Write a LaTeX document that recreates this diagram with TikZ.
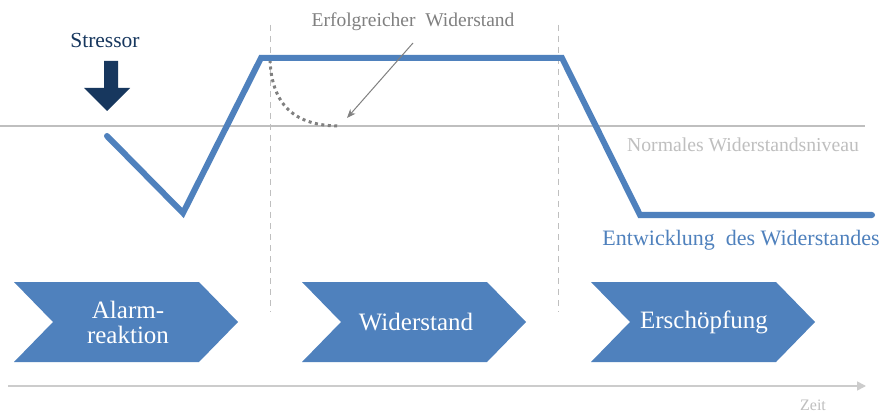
\documentclass[tikz,border=0pt]{standalone}
\usepackage{fontspec}
\setmainfont{Liberation Serif}
\usetikzlibrary{arrows.meta}
\definecolor{cblue}{HTML}{4F81BD}
\definecolor{cnavy}{HTML}{17375E}
\definecolor{clgray}{HTML}{BFBFBF}
\definecolor{cmgray}{HTML}{808080}
\begin{document}
\begin{tikzpicture}[x=1pt,y=-1pt,
  chev/.style={fill=cblue,draw=none},
  chevtext/.style={text=white,font=\fontsize{25}{25}\selectfont,align=center,inner sep=0pt},
  curve/.style={draw=cblue,line width=6pt,line join=miter,line cap=round},
  vdash/.style={draw=clgray,line width=1pt,dash pattern=on 6pt off 5pt}]
\useasboundingbox (0,0) rectangle (883,414);
\fill[white] (0,0) rectangle (883,414);
% normal level line
\coordinate (n0) at (0,126);
\coordinate (n1) at (865,126);
\draw[clgray,line width=1.2pt] (n0) -- (n1);
% dashed phase separators
\coordinate (d1a) at (270,25); \coordinate (d1b) at (270,312);
\coordinate (d2a) at (558,25); \coordinate (d2b) at (558,312);
\draw[vdash] (d1a) -- (d1b);
\draw[vdash] (d2a) -- (d2b);
% time axis
\coordinate (t0) at (8,386); \coordinate (t1) at (866,386);
\draw[draw=clgray!80,line width=1.5pt,-{Triangle[length=9pt,width=9pt]}] (t0) -- (t1);
\node[text=clgray,font=\fontsize{16}{18}\selectfont,inner sep=0pt] (zeit) at (813,405) {Zeit};
% dotted successful resistance
\coordinate (s0) at (270,60);
\coordinate (s1) at (340,126);
\draw[cmgray,line width=3pt,dash pattern=on 3pt off 3.5pt] (s0) .. controls (272,110) and (300,126) .. (s1);
% resistance curve
\coordinate (p0) at (107,136);
\coordinate (p1) at (183,213);
\coordinate (p2) at (261,58);
\coordinate (p3) at (562,58);
\coordinate (p4) at (640,215);
\coordinate (p5) at (872,215);
\draw[curve] (p0) -- (p1) -- (p2) -- (p3) -- (p4) -- (p5);
% labels
\node[text=cnavy,font=\fontsize{21.5}{24}\selectfont,inner sep=0pt] (stressor) at (105,40) {Stressor};
\fill[cnavy] (104,61) -- (118,61) -- (118,88) -- (130,88) -- (107,111) -- (84,88) -- (104,88) -- cycle;
\node[text=cmgray,font=\fontsize{19.5}{20}\selectfont,inner sep=0pt] (erf) at (413,22) {Erfolgreicher\ \ Widerstand};
\coordinate (erfarrow) at (347,118);
\draw[cmgray,line width=1pt,-{Stealth[length=9pt,width=7pt]}] (413,43) -- (erfarrow);
\node[text=clgray,font=\fontsize{19.7}{20}\selectfont,inner sep=0pt] (normal) at (743,145) {Normales Widerstandsniveau};
\node[text=cblue,font=\fontsize{22}{24}\selectfont,inner sep=0pt] (entw) at (741,240) {Entwicklung\ \ des Widerstandes};
% chevrons
\fill[chev] (14,282) -- (199,282) -- (238,322) -- (199,362) -- (14,362) -- (53,322) -- cycle;
\fill[chev] (302,282) -- (487,282) -- (526,322) -- (487,362) -- (302,362) -- (341,322) -- cycle;
\fill[chev] (591,282) -- (776,282) -- (815,322) -- (776,362) -- (591,362) -- (630,322) -- cycle;
\node[chevtext] (alarm) at (128,322) {Alarm-\\reaktion};
\node[chevtext] (wid) at (416,322) {Widerstand};
\node[chevtext] (ersch) at (704,322) {Erschöpfung};
\end{tikzpicture}
\end{document}
